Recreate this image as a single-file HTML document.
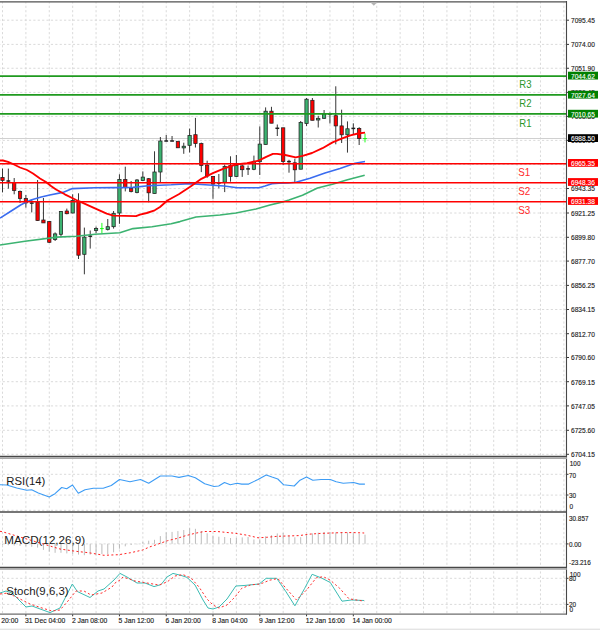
<!DOCTYPE html>
<html><head><meta charset="utf-8"><style>
html,body{margin:0;padding:0;background:#fff;width:600px;height:630px;overflow:hidden}
svg{display:block}
</style></head><body>
<svg width="600" height="630" viewBox="0 0 600 630">
<rect width="600" height="630" fill="#ffffff"/>
<line x1="2.50" y1="2.2" x2="2.50" y2="456.5" stroke="#d6d6d6" stroke-width="0.9" stroke-dasharray="2.19,2.195" stroke-dashoffset="0.85"/>
<line x1="2.50" y1="457.5" x2="2.50" y2="511.5" stroke="#d6d6d6" stroke-width="0.9" stroke-dasharray="2.19,2.195" stroke-dashoffset="0.11"/>
<line x1="2.50" y1="512.5" x2="2.50" y2="568.0" stroke="#d6d6d6" stroke-width="0.9" stroke-dasharray="2.19,2.195" stroke-dashoffset="2.49"/>
<line x1="2.50" y1="569.0" x2="2.50" y2="614.0" stroke="#d6d6d6" stroke-width="0.9" stroke-dasharray="2.19,2.195" stroke-dashoffset="1.99"/>
<line x1="25.89" y1="2.2" x2="25.89" y2="456.5" stroke="#d6d6d6" stroke-width="0.9" stroke-dasharray="2.19,2.195" stroke-dashoffset="0.85"/>
<line x1="25.89" y1="457.5" x2="25.89" y2="511.5" stroke="#d6d6d6" stroke-width="0.9" stroke-dasharray="2.19,2.195" stroke-dashoffset="0.11"/>
<line x1="25.89" y1="512.5" x2="25.89" y2="568.0" stroke="#d6d6d6" stroke-width="0.9" stroke-dasharray="2.19,2.195" stroke-dashoffset="2.49"/>
<line x1="25.89" y1="569.0" x2="25.89" y2="614.0" stroke="#d6d6d6" stroke-width="0.9" stroke-dasharray="2.19,2.195" stroke-dashoffset="1.99"/>
<line x1="49.28" y1="2.2" x2="49.28" y2="456.5" stroke="#d6d6d6" stroke-width="0.9" stroke-dasharray="2.19,2.195" stroke-dashoffset="0.85"/>
<line x1="49.28" y1="457.5" x2="49.28" y2="511.5" stroke="#d6d6d6" stroke-width="0.9" stroke-dasharray="2.19,2.195" stroke-dashoffset="0.11"/>
<line x1="49.28" y1="512.5" x2="49.28" y2="568.0" stroke="#d6d6d6" stroke-width="0.9" stroke-dasharray="2.19,2.195" stroke-dashoffset="2.49"/>
<line x1="49.28" y1="569.0" x2="49.28" y2="614.0" stroke="#d6d6d6" stroke-width="0.9" stroke-dasharray="2.19,2.195" stroke-dashoffset="1.99"/>
<line x1="72.67" y1="2.2" x2="72.67" y2="456.5" stroke="#d6d6d6" stroke-width="0.9" stroke-dasharray="2.19,2.195" stroke-dashoffset="0.85"/>
<line x1="72.67" y1="457.5" x2="72.67" y2="511.5" stroke="#d6d6d6" stroke-width="0.9" stroke-dasharray="2.19,2.195" stroke-dashoffset="0.11"/>
<line x1="72.67" y1="512.5" x2="72.67" y2="568.0" stroke="#d6d6d6" stroke-width="0.9" stroke-dasharray="2.19,2.195" stroke-dashoffset="2.49"/>
<line x1="72.67" y1="569.0" x2="72.67" y2="614.0" stroke="#d6d6d6" stroke-width="0.9" stroke-dasharray="2.19,2.195" stroke-dashoffset="1.99"/>
<line x1="96.06" y1="2.2" x2="96.06" y2="456.5" stroke="#d6d6d6" stroke-width="0.9" stroke-dasharray="2.19,2.195" stroke-dashoffset="0.85"/>
<line x1="96.06" y1="457.5" x2="96.06" y2="511.5" stroke="#d6d6d6" stroke-width="0.9" stroke-dasharray="2.19,2.195" stroke-dashoffset="0.11"/>
<line x1="96.06" y1="512.5" x2="96.06" y2="568.0" stroke="#d6d6d6" stroke-width="0.9" stroke-dasharray="2.19,2.195" stroke-dashoffset="2.49"/>
<line x1="96.06" y1="569.0" x2="96.06" y2="614.0" stroke="#d6d6d6" stroke-width="0.9" stroke-dasharray="2.19,2.195" stroke-dashoffset="1.99"/>
<line x1="119.45" y1="2.2" x2="119.45" y2="456.5" stroke="#d6d6d6" stroke-width="0.9" stroke-dasharray="2.19,2.195" stroke-dashoffset="0.85"/>
<line x1="119.45" y1="457.5" x2="119.45" y2="511.5" stroke="#d6d6d6" stroke-width="0.9" stroke-dasharray="2.19,2.195" stroke-dashoffset="0.11"/>
<line x1="119.45" y1="512.5" x2="119.45" y2="568.0" stroke="#d6d6d6" stroke-width="0.9" stroke-dasharray="2.19,2.195" stroke-dashoffset="2.49"/>
<line x1="119.45" y1="569.0" x2="119.45" y2="614.0" stroke="#d6d6d6" stroke-width="0.9" stroke-dasharray="2.19,2.195" stroke-dashoffset="1.99"/>
<line x1="142.84" y1="2.2" x2="142.84" y2="456.5" stroke="#d6d6d6" stroke-width="0.9" stroke-dasharray="2.19,2.195" stroke-dashoffset="0.85"/>
<line x1="142.84" y1="457.5" x2="142.84" y2="511.5" stroke="#d6d6d6" stroke-width="0.9" stroke-dasharray="2.19,2.195" stroke-dashoffset="0.11"/>
<line x1="142.84" y1="512.5" x2="142.84" y2="568.0" stroke="#d6d6d6" stroke-width="0.9" stroke-dasharray="2.19,2.195" stroke-dashoffset="2.49"/>
<line x1="142.84" y1="569.0" x2="142.84" y2="614.0" stroke="#d6d6d6" stroke-width="0.9" stroke-dasharray="2.19,2.195" stroke-dashoffset="1.99"/>
<line x1="166.23" y1="2.2" x2="166.23" y2="456.5" stroke="#d6d6d6" stroke-width="0.9" stroke-dasharray="2.19,2.195" stroke-dashoffset="0.85"/>
<line x1="166.23" y1="457.5" x2="166.23" y2="511.5" stroke="#d6d6d6" stroke-width="0.9" stroke-dasharray="2.19,2.195" stroke-dashoffset="0.11"/>
<line x1="166.23" y1="512.5" x2="166.23" y2="568.0" stroke="#d6d6d6" stroke-width="0.9" stroke-dasharray="2.19,2.195" stroke-dashoffset="2.49"/>
<line x1="166.23" y1="569.0" x2="166.23" y2="614.0" stroke="#d6d6d6" stroke-width="0.9" stroke-dasharray="2.19,2.195" stroke-dashoffset="1.99"/>
<line x1="189.62" y1="2.2" x2="189.62" y2="456.5" stroke="#d6d6d6" stroke-width="0.9" stroke-dasharray="2.19,2.195" stroke-dashoffset="0.85"/>
<line x1="189.62" y1="457.5" x2="189.62" y2="511.5" stroke="#d6d6d6" stroke-width="0.9" stroke-dasharray="2.19,2.195" stroke-dashoffset="0.11"/>
<line x1="189.62" y1="512.5" x2="189.62" y2="568.0" stroke="#d6d6d6" stroke-width="0.9" stroke-dasharray="2.19,2.195" stroke-dashoffset="2.49"/>
<line x1="189.62" y1="569.0" x2="189.62" y2="614.0" stroke="#d6d6d6" stroke-width="0.9" stroke-dasharray="2.19,2.195" stroke-dashoffset="1.99"/>
<line x1="213.01" y1="2.2" x2="213.01" y2="456.5" stroke="#d6d6d6" stroke-width="0.9" stroke-dasharray="2.19,2.195" stroke-dashoffset="0.85"/>
<line x1="213.01" y1="457.5" x2="213.01" y2="511.5" stroke="#d6d6d6" stroke-width="0.9" stroke-dasharray="2.19,2.195" stroke-dashoffset="0.11"/>
<line x1="213.01" y1="512.5" x2="213.01" y2="568.0" stroke="#d6d6d6" stroke-width="0.9" stroke-dasharray="2.19,2.195" stroke-dashoffset="2.49"/>
<line x1="213.01" y1="569.0" x2="213.01" y2="614.0" stroke="#d6d6d6" stroke-width="0.9" stroke-dasharray="2.19,2.195" stroke-dashoffset="1.99"/>
<line x1="236.40" y1="2.2" x2="236.40" y2="456.5" stroke="#d6d6d6" stroke-width="0.9" stroke-dasharray="2.19,2.195" stroke-dashoffset="0.85"/>
<line x1="236.40" y1="457.5" x2="236.40" y2="511.5" stroke="#d6d6d6" stroke-width="0.9" stroke-dasharray="2.19,2.195" stroke-dashoffset="0.11"/>
<line x1="236.40" y1="512.5" x2="236.40" y2="568.0" stroke="#d6d6d6" stroke-width="0.9" stroke-dasharray="2.19,2.195" stroke-dashoffset="2.49"/>
<line x1="236.40" y1="569.0" x2="236.40" y2="614.0" stroke="#d6d6d6" stroke-width="0.9" stroke-dasharray="2.19,2.195" stroke-dashoffset="1.99"/>
<line x1="259.79" y1="2.2" x2="259.79" y2="456.5" stroke="#d6d6d6" stroke-width="0.9" stroke-dasharray="2.19,2.195" stroke-dashoffset="0.85"/>
<line x1="259.79" y1="457.5" x2="259.79" y2="511.5" stroke="#d6d6d6" stroke-width="0.9" stroke-dasharray="2.19,2.195" stroke-dashoffset="0.11"/>
<line x1="259.79" y1="512.5" x2="259.79" y2="568.0" stroke="#d6d6d6" stroke-width="0.9" stroke-dasharray="2.19,2.195" stroke-dashoffset="2.49"/>
<line x1="259.79" y1="569.0" x2="259.79" y2="614.0" stroke="#d6d6d6" stroke-width="0.9" stroke-dasharray="2.19,2.195" stroke-dashoffset="1.99"/>
<line x1="283.18" y1="2.2" x2="283.18" y2="456.5" stroke="#d6d6d6" stroke-width="0.9" stroke-dasharray="2.19,2.195" stroke-dashoffset="0.85"/>
<line x1="283.18" y1="457.5" x2="283.18" y2="511.5" stroke="#d6d6d6" stroke-width="0.9" stroke-dasharray="2.19,2.195" stroke-dashoffset="0.11"/>
<line x1="283.18" y1="512.5" x2="283.18" y2="568.0" stroke="#d6d6d6" stroke-width="0.9" stroke-dasharray="2.19,2.195" stroke-dashoffset="2.49"/>
<line x1="283.18" y1="569.0" x2="283.18" y2="614.0" stroke="#d6d6d6" stroke-width="0.9" stroke-dasharray="2.19,2.195" stroke-dashoffset="1.99"/>
<line x1="306.57" y1="2.2" x2="306.57" y2="456.5" stroke="#d6d6d6" stroke-width="0.9" stroke-dasharray="2.19,2.195" stroke-dashoffset="0.85"/>
<line x1="306.57" y1="457.5" x2="306.57" y2="511.5" stroke="#d6d6d6" stroke-width="0.9" stroke-dasharray="2.19,2.195" stroke-dashoffset="0.11"/>
<line x1="306.57" y1="512.5" x2="306.57" y2="568.0" stroke="#d6d6d6" stroke-width="0.9" stroke-dasharray="2.19,2.195" stroke-dashoffset="2.49"/>
<line x1="306.57" y1="569.0" x2="306.57" y2="614.0" stroke="#d6d6d6" stroke-width="0.9" stroke-dasharray="2.19,2.195" stroke-dashoffset="1.99"/>
<line x1="329.96" y1="2.2" x2="329.96" y2="456.5" stroke="#d6d6d6" stroke-width="0.9" stroke-dasharray="2.19,2.195" stroke-dashoffset="0.85"/>
<line x1="329.96" y1="457.5" x2="329.96" y2="511.5" stroke="#d6d6d6" stroke-width="0.9" stroke-dasharray="2.19,2.195" stroke-dashoffset="0.11"/>
<line x1="329.96" y1="512.5" x2="329.96" y2="568.0" stroke="#d6d6d6" stroke-width="0.9" stroke-dasharray="2.19,2.195" stroke-dashoffset="2.49"/>
<line x1="329.96" y1="569.0" x2="329.96" y2="614.0" stroke="#d6d6d6" stroke-width="0.9" stroke-dasharray="2.19,2.195" stroke-dashoffset="1.99"/>
<line x1="353.35" y1="2.2" x2="353.35" y2="456.5" stroke="#d6d6d6" stroke-width="0.9" stroke-dasharray="2.19,2.195" stroke-dashoffset="0.85"/>
<line x1="353.35" y1="457.5" x2="353.35" y2="511.5" stroke="#d6d6d6" stroke-width="0.9" stroke-dasharray="2.19,2.195" stroke-dashoffset="0.11"/>
<line x1="353.35" y1="512.5" x2="353.35" y2="568.0" stroke="#d6d6d6" stroke-width="0.9" stroke-dasharray="2.19,2.195" stroke-dashoffset="2.49"/>
<line x1="353.35" y1="569.0" x2="353.35" y2="614.0" stroke="#d6d6d6" stroke-width="0.9" stroke-dasharray="2.19,2.195" stroke-dashoffset="1.99"/>
<line x1="376.74" y1="2.2" x2="376.74" y2="456.5" stroke="#d6d6d6" stroke-width="0.9" stroke-dasharray="2.19,2.195" stroke-dashoffset="0.85"/>
<line x1="376.74" y1="457.5" x2="376.74" y2="511.5" stroke="#d6d6d6" stroke-width="0.9" stroke-dasharray="2.19,2.195" stroke-dashoffset="0.11"/>
<line x1="376.74" y1="512.5" x2="376.74" y2="568.0" stroke="#d6d6d6" stroke-width="0.9" stroke-dasharray="2.19,2.195" stroke-dashoffset="2.49"/>
<line x1="376.74" y1="569.0" x2="376.74" y2="614.0" stroke="#d6d6d6" stroke-width="0.9" stroke-dasharray="2.19,2.195" stroke-dashoffset="1.99"/>
<line x1="400.13" y1="2.2" x2="400.13" y2="456.5" stroke="#d6d6d6" stroke-width="0.9" stroke-dasharray="2.19,2.195" stroke-dashoffset="0.85"/>
<line x1="400.13" y1="457.5" x2="400.13" y2="511.5" stroke="#d6d6d6" stroke-width="0.9" stroke-dasharray="2.19,2.195" stroke-dashoffset="0.11"/>
<line x1="400.13" y1="512.5" x2="400.13" y2="568.0" stroke="#d6d6d6" stroke-width="0.9" stroke-dasharray="2.19,2.195" stroke-dashoffset="2.49"/>
<line x1="400.13" y1="569.0" x2="400.13" y2="614.0" stroke="#d6d6d6" stroke-width="0.9" stroke-dasharray="2.19,2.195" stroke-dashoffset="1.99"/>
<line x1="423.52" y1="2.2" x2="423.52" y2="456.5" stroke="#d6d6d6" stroke-width="0.9" stroke-dasharray="2.19,2.195" stroke-dashoffset="0.85"/>
<line x1="423.52" y1="457.5" x2="423.52" y2="511.5" stroke="#d6d6d6" stroke-width="0.9" stroke-dasharray="2.19,2.195" stroke-dashoffset="0.11"/>
<line x1="423.52" y1="512.5" x2="423.52" y2="568.0" stroke="#d6d6d6" stroke-width="0.9" stroke-dasharray="2.19,2.195" stroke-dashoffset="2.49"/>
<line x1="423.52" y1="569.0" x2="423.52" y2="614.0" stroke="#d6d6d6" stroke-width="0.9" stroke-dasharray="2.19,2.195" stroke-dashoffset="1.99"/>
<line x1="446.91" y1="2.2" x2="446.91" y2="456.5" stroke="#d6d6d6" stroke-width="0.9" stroke-dasharray="2.19,2.195" stroke-dashoffset="0.85"/>
<line x1="446.91" y1="457.5" x2="446.91" y2="511.5" stroke="#d6d6d6" stroke-width="0.9" stroke-dasharray="2.19,2.195" stroke-dashoffset="0.11"/>
<line x1="446.91" y1="512.5" x2="446.91" y2="568.0" stroke="#d6d6d6" stroke-width="0.9" stroke-dasharray="2.19,2.195" stroke-dashoffset="2.49"/>
<line x1="446.91" y1="569.0" x2="446.91" y2="614.0" stroke="#d6d6d6" stroke-width="0.9" stroke-dasharray="2.19,2.195" stroke-dashoffset="1.99"/>
<line x1="470.30" y1="2.2" x2="470.30" y2="456.5" stroke="#d6d6d6" stroke-width="0.9" stroke-dasharray="2.19,2.195" stroke-dashoffset="0.85"/>
<line x1="470.30" y1="457.5" x2="470.30" y2="511.5" stroke="#d6d6d6" stroke-width="0.9" stroke-dasharray="2.19,2.195" stroke-dashoffset="0.11"/>
<line x1="470.30" y1="512.5" x2="470.30" y2="568.0" stroke="#d6d6d6" stroke-width="0.9" stroke-dasharray="2.19,2.195" stroke-dashoffset="2.49"/>
<line x1="470.30" y1="569.0" x2="470.30" y2="614.0" stroke="#d6d6d6" stroke-width="0.9" stroke-dasharray="2.19,2.195" stroke-dashoffset="1.99"/>
<line x1="493.69" y1="2.2" x2="493.69" y2="456.5" stroke="#d6d6d6" stroke-width="0.9" stroke-dasharray="2.19,2.195" stroke-dashoffset="0.85"/>
<line x1="493.69" y1="457.5" x2="493.69" y2="511.5" stroke="#d6d6d6" stroke-width="0.9" stroke-dasharray="2.19,2.195" stroke-dashoffset="0.11"/>
<line x1="493.69" y1="512.5" x2="493.69" y2="568.0" stroke="#d6d6d6" stroke-width="0.9" stroke-dasharray="2.19,2.195" stroke-dashoffset="2.49"/>
<line x1="493.69" y1="569.0" x2="493.69" y2="614.0" stroke="#d6d6d6" stroke-width="0.9" stroke-dasharray="2.19,2.195" stroke-dashoffset="1.99"/>
<line x1="517.08" y1="2.2" x2="517.08" y2="456.5" stroke="#d6d6d6" stroke-width="0.9" stroke-dasharray="2.19,2.195" stroke-dashoffset="0.85"/>
<line x1="517.08" y1="457.5" x2="517.08" y2="511.5" stroke="#d6d6d6" stroke-width="0.9" stroke-dasharray="2.19,2.195" stroke-dashoffset="0.11"/>
<line x1="517.08" y1="512.5" x2="517.08" y2="568.0" stroke="#d6d6d6" stroke-width="0.9" stroke-dasharray="2.19,2.195" stroke-dashoffset="2.49"/>
<line x1="517.08" y1="569.0" x2="517.08" y2="614.0" stroke="#d6d6d6" stroke-width="0.9" stroke-dasharray="2.19,2.195" stroke-dashoffset="1.99"/>
<line x1="540.47" y1="2.2" x2="540.47" y2="456.5" stroke="#d6d6d6" stroke-width="0.9" stroke-dasharray="2.19,2.195" stroke-dashoffset="0.85"/>
<line x1="540.47" y1="457.5" x2="540.47" y2="511.5" stroke="#d6d6d6" stroke-width="0.9" stroke-dasharray="2.19,2.195" stroke-dashoffset="0.11"/>
<line x1="540.47" y1="512.5" x2="540.47" y2="568.0" stroke="#d6d6d6" stroke-width="0.9" stroke-dasharray="2.19,2.195" stroke-dashoffset="2.49"/>
<line x1="540.47" y1="569.0" x2="540.47" y2="614.0" stroke="#d6d6d6" stroke-width="0.9" stroke-dasharray="2.19,2.195" stroke-dashoffset="1.99"/>
<line x1="563.86" y1="2.2" x2="563.86" y2="456.5" stroke="#d6d6d6" stroke-width="0.9" stroke-dasharray="2.19,2.195" stroke-dashoffset="0.85"/>
<line x1="563.86" y1="457.5" x2="563.86" y2="511.5" stroke="#d6d6d6" stroke-width="0.9" stroke-dasharray="2.19,2.195" stroke-dashoffset="0.11"/>
<line x1="563.86" y1="512.5" x2="563.86" y2="568.0" stroke="#d6d6d6" stroke-width="0.9" stroke-dasharray="2.19,2.195" stroke-dashoffset="2.49"/>
<line x1="563.86" y1="569.0" x2="563.86" y2="614.0" stroke="#d6d6d6" stroke-width="0.9" stroke-dasharray="2.19,2.195" stroke-dashoffset="1.99"/>
<line x1="0" y1="20.20" x2="566.0" y2="20.20" stroke="#d6d6d6" stroke-width="0.90" stroke-dasharray="2.19,2.195" stroke-dashoffset="1.755"/>
<line x1="0" y1="44.40" x2="566.0" y2="44.40" stroke="#d6d6d6" stroke-width="0.90" stroke-dasharray="2.19,2.195" stroke-dashoffset="1.755"/>
<line x1="0" y1="68.25" x2="566.0" y2="68.25" stroke="#d6d6d6" stroke-width="0.90" stroke-dasharray="2.19,2.195" stroke-dashoffset="1.755"/>
<line x1="0" y1="92.40" x2="566.0" y2="92.40" stroke="#d6d6d6" stroke-width="0.90" stroke-dasharray="2.19,2.195" stroke-dashoffset="1.755"/>
<line x1="0" y1="116.40" x2="566.0" y2="116.40" stroke="#d6d6d6" stroke-width="0.90" stroke-dasharray="2.19,2.195" stroke-dashoffset="1.755"/>
<line x1="0" y1="140.40" x2="566.0" y2="140.40" stroke="#d6d6d6" stroke-width="0.90" stroke-dasharray="2.19,2.195" stroke-dashoffset="1.755"/>
<line x1="0" y1="164.50" x2="566.0" y2="164.50" stroke="#d6d6d6" stroke-width="0.90" stroke-dasharray="2.19,2.195" stroke-dashoffset="1.755"/>
<line x1="0" y1="188.50" x2="566.0" y2="188.50" stroke="#d6d6d6" stroke-width="0.90" stroke-dasharray="2.19,2.195" stroke-dashoffset="1.755"/>
<line x1="0" y1="213.00" x2="566.0" y2="213.00" stroke="#d6d6d6" stroke-width="0.90" stroke-dasharray="2.19,2.195" stroke-dashoffset="1.755"/>
<line x1="0" y1="237.30" x2="566.0" y2="237.30" stroke="#d6d6d6" stroke-width="0.90" stroke-dasharray="2.19,2.195" stroke-dashoffset="1.755"/>
<line x1="0" y1="261.10" x2="566.0" y2="261.10" stroke="#d6d6d6" stroke-width="0.90" stroke-dasharray="2.19,2.195" stroke-dashoffset="1.755"/>
<line x1="0" y1="285.40" x2="566.0" y2="285.40" stroke="#d6d6d6" stroke-width="0.90" stroke-dasharray="2.19,2.195" stroke-dashoffset="1.755"/>
<line x1="0" y1="309.50" x2="566.0" y2="309.50" stroke="#d6d6d6" stroke-width="0.90" stroke-dasharray="2.19,2.195" stroke-dashoffset="1.755"/>
<line x1="0" y1="333.70" x2="566.0" y2="333.70" stroke="#d6d6d6" stroke-width="0.90" stroke-dasharray="2.19,2.195" stroke-dashoffset="1.755"/>
<line x1="0" y1="357.50" x2="566.0" y2="357.50" stroke="#d6d6d6" stroke-width="0.90" stroke-dasharray="2.19,2.195" stroke-dashoffset="1.755"/>
<line x1="0" y1="381.70" x2="566.0" y2="381.70" stroke="#d6d6d6" stroke-width="0.90" stroke-dasharray="2.19,2.195" stroke-dashoffset="1.755"/>
<line x1="0" y1="405.90" x2="566.0" y2="405.90" stroke="#d6d6d6" stroke-width="0.90" stroke-dasharray="2.19,2.195" stroke-dashoffset="1.755"/>
<line x1="0" y1="430.30" x2="566.0" y2="430.30" stroke="#d6d6d6" stroke-width="0.90" stroke-dasharray="2.19,2.195" stroke-dashoffset="1.755"/>
<line x1="0" y1="454.30" x2="566.0" y2="454.30" stroke="#d6d6d6" stroke-width="0.90" stroke-dasharray="2.19,2.195" stroke-dashoffset="1.755"/>
<line x1="0" y1="474.30" x2="566.0" y2="474.30" stroke="#d6d6d6" stroke-width="0.90" stroke-dasharray="2.19,2.195" stroke-dashoffset="1.755"/>
<line x1="0" y1="495.10" x2="566.0" y2="495.10" stroke="#d6d6d6" stroke-width="0.90" stroke-dasharray="2.19,2.195" stroke-dashoffset="1.755"/>
<line x1="0" y1="543.90" x2="566.0" y2="543.90" stroke="#d6d6d6" stroke-width="0.90" stroke-dasharray="2.19,2.195" stroke-dashoffset="1.755"/>
<line x1="0" y1="578.30" x2="566.0" y2="578.30" stroke="#d6d6d6" stroke-width="0.90" stroke-dasharray="2.19,2.195" stroke-dashoffset="1.755"/>
<line x1="0" y1="604.40" x2="566.0" y2="604.40" stroke="#d6d6d6" stroke-width="0.90" stroke-dasharray="2.19,2.195" stroke-dashoffset="1.755"/>
<line x1="0" y1="138.5" x2="566" y2="138.5" stroke="#d0d0d0" stroke-width="1.1"/>
<line x1="2.50" y1="168.60" x2="2.50" y2="192.40" stroke="#202020" stroke-width="0.9"/>
<rect x="0.85" y="177.50" width="3.3" height="2.90" fill="#ff0000" stroke="#202020" stroke-width="0.75"/>
<line x1="8.35" y1="168.60" x2="8.35" y2="188.60" stroke="#202020" stroke-width="0.9"/>
<line x1="6.45" y1="181.00" x2="10.25" y2="181.00" stroke="#202020" stroke-width="1.5"/>
<line x1="14.19" y1="178.00" x2="14.19" y2="194.30" stroke="#202020" stroke-width="0.9"/>
<rect x="12.54" y="182.50" width="3.3" height="8.00" fill="#ff0000" stroke="#202020" stroke-width="0.75"/>
<line x1="20.04" y1="190.50" x2="20.04" y2="203.00" stroke="#202020" stroke-width="0.9"/>
<rect x="18.39" y="191.40" width="3.3" height="7.10" fill="#ff0000" stroke="#202020" stroke-width="0.75"/>
<line x1="25.89" y1="195.00" x2="25.89" y2="207.60" stroke="#202020" stroke-width="0.9"/>
<rect x="24.24" y="198.50" width="3.3" height="4.40" fill="#ff0000" stroke="#202020" stroke-width="0.75"/>
<line x1="31.74" y1="200.00" x2="31.74" y2="212.40" stroke="#202020" stroke-width="0.9"/>
<line x1="29.84" y1="203.10" x2="33.64" y2="203.10" stroke="#202020" stroke-width="1.5"/>
<line x1="37.58" y1="180.00" x2="37.58" y2="221.00" stroke="#202020" stroke-width="0.9"/>
<rect x="35.93" y="202.30" width="3.3" height="18.30" fill="#ff0000" stroke="#202020" stroke-width="0.75"/>
<line x1="43.43" y1="198.00" x2="43.43" y2="222.90" stroke="#202020" stroke-width="0.9"/>
<rect x="41.78" y="220.00" width="3.3" height="2.90" fill="#ff0000" stroke="#202020" stroke-width="0.75"/>
<line x1="49.28" y1="221.00" x2="49.28" y2="242.90" stroke="#202020" stroke-width="0.9"/>
<rect x="47.63" y="221.50" width="3.3" height="20.80" fill="#ff0000" stroke="#202020" stroke-width="0.75"/>
<line x1="55.12" y1="232.40" x2="55.12" y2="241.00" stroke="#202020" stroke-width="0.9"/>
<rect x="53.47" y="233.90" width="3.3" height="5.70" fill="#3cb371" stroke="#202020" stroke-width="0.75"/>
<line x1="60.97" y1="211.00" x2="60.97" y2="237.10" stroke="#202020" stroke-width="0.9"/>
<rect x="59.32" y="211.40" width="3.3" height="22.90" fill="#3cb371" stroke="#202020" stroke-width="0.75"/>
<line x1="66.82" y1="208.60" x2="66.82" y2="214.30" stroke="#202020" stroke-width="0.9"/>
<rect x="65.17" y="211.00" width="3.3" height="2.70" fill="#ff0000" stroke="#202020" stroke-width="0.75"/>
<line x1="72.66" y1="194.30" x2="72.66" y2="213.30" stroke="#202020" stroke-width="0.9"/>
<rect x="71.01" y="200.60" width="3.3" height="12.40" fill="#3cb371" stroke="#202020" stroke-width="0.75"/>
<line x1="78.51" y1="193.30" x2="78.51" y2="259.00" stroke="#202020" stroke-width="0.9"/>
<rect x="76.86" y="201.50" width="3.3" height="53.70" fill="#ff0000" stroke="#202020" stroke-width="0.75"/>
<line x1="84.36" y1="227.60" x2="84.36" y2="274.30" stroke="#202020" stroke-width="0.9"/>
<rect x="82.71" y="237.10" width="3.3" height="17.20" fill="#3cb371" stroke="#202020" stroke-width="0.75"/>
<line x1="90.21" y1="230.50" x2="90.21" y2="248.60" stroke="#202020" stroke-width="0.9"/>
<line x1="88.31" y1="236.20" x2="92.11" y2="236.20" stroke="#202020" stroke-width="1.5"/>
<line x1="96.05" y1="226.70" x2="96.05" y2="233.30" stroke="#202020" stroke-width="0.9"/>
<rect x="94.40" y="228.60" width="3.3" height="1.90" fill="#3cb371" stroke="#202020" stroke-width="0.75"/>
<line x1="101.90" y1="222.90" x2="101.90" y2="233.30" stroke="#00ff00" stroke-width="0.9"/>
<line x1="100.00" y1="228.60" x2="103.80" y2="228.60" stroke="#00ff00" stroke-width="0.9"/>
<line x1="107.75" y1="219.00" x2="107.75" y2="230.50" stroke="#202020" stroke-width="0.9"/>
<rect x="106.10" y="226.70" width="3.3" height="2.80" fill="#3cb371" stroke="#202020" stroke-width="0.75"/>
<line x1="113.59" y1="211.00" x2="113.59" y2="228.60" stroke="#202020" stroke-width="0.9"/>
<rect x="111.94" y="213.30" width="3.3" height="13.40" fill="#3cb371" stroke="#202020" stroke-width="0.75"/>
<line x1="119.44" y1="174.30" x2="119.44" y2="223.80" stroke="#202020" stroke-width="0.9"/>
<rect x="117.79" y="179.40" width="3.3" height="33.60" fill="#3cb371" stroke="#202020" stroke-width="0.75"/>
<line x1="125.29" y1="166.70" x2="125.29" y2="191.40" stroke="#202020" stroke-width="0.9"/>
<rect x="123.64" y="179.40" width="3.3" height="8.20" fill="#ff0000" stroke="#202020" stroke-width="0.75"/>
<line x1="131.13" y1="181.00" x2="131.13" y2="192.40" stroke="#202020" stroke-width="0.9"/>
<rect x="129.48" y="188.60" width="3.3" height="2.80" fill="#ff0000" stroke="#202020" stroke-width="0.75"/>
<line x1="136.98" y1="179.00" x2="136.98" y2="193.30" stroke="#202020" stroke-width="0.9"/>
<rect x="135.33" y="180.00" width="3.3" height="12.40" fill="#3cb371" stroke="#202020" stroke-width="0.75"/>
<line x1="142.83" y1="171.40" x2="142.83" y2="181.00" stroke="#202020" stroke-width="0.9"/>
<rect x="141.18" y="177.10" width="3.3" height="3.50" fill="#3cb371" stroke="#202020" stroke-width="0.75"/>
<line x1="148.68" y1="178.00" x2="148.68" y2="202.30" stroke="#202020" stroke-width="0.9"/>
<rect x="147.03" y="178.70" width="3.3" height="14.10" fill="#ff0000" stroke="#202020" stroke-width="0.75"/>
<line x1="154.52" y1="151.30" x2="154.52" y2="193.60" stroke="#202020" stroke-width="0.9"/>
<rect x="152.87" y="172.00" width="3.3" height="21.60" fill="#3cb371" stroke="#202020" stroke-width="0.75"/>
<line x1="160.37" y1="137.00" x2="160.37" y2="182.00" stroke="#202020" stroke-width="0.9"/>
<rect x="158.72" y="141.00" width="3.3" height="31.00" fill="#3cb371" stroke="#202020" stroke-width="0.75"/>
<line x1="166.22" y1="135.00" x2="166.22" y2="141.30" stroke="#202020" stroke-width="0.9"/>
<line x1="164.32" y1="141.00" x2="168.12" y2="141.00" stroke="#202020" stroke-width="1.5"/>
<line x1="172.06" y1="136.00" x2="172.06" y2="141.30" stroke="#202020" stroke-width="0.9"/>
<line x1="170.16" y1="141.00" x2="173.96" y2="141.00" stroke="#202020" stroke-width="1.5"/>
<line x1="177.91" y1="141.30" x2="177.91" y2="148.00" stroke="#202020" stroke-width="0.9"/>
<rect x="176.26" y="141.30" width="3.3" height="6.50" fill="#ff0000" stroke="#202020" stroke-width="0.75"/>
<line x1="183.76" y1="142.70" x2="183.76" y2="153.80" stroke="#202020" stroke-width="0.9"/>
<rect x="182.11" y="146.20" width="3.3" height="1.70" fill="#3cb371" stroke="#202020" stroke-width="0.75"/>
<line x1="189.60" y1="128.60" x2="189.60" y2="152.50" stroke="#202020" stroke-width="0.9"/>
<rect x="187.95" y="135.60" width="3.3" height="9.70" fill="#3cb371" stroke="#202020" stroke-width="0.75"/>
<line x1="195.45" y1="117.90" x2="195.45" y2="147.50" stroke="#202020" stroke-width="0.9"/>
<rect x="193.80" y="134.70" width="3.3" height="8.90" fill="#ff0000" stroke="#202020" stroke-width="0.75"/>
<line x1="201.30" y1="142.60" x2="201.30" y2="172.10" stroke="#202020" stroke-width="0.9"/>
<rect x="199.65" y="143.60" width="3.3" height="21.90" fill="#ff0000" stroke="#202020" stroke-width="0.75"/>
<line x1="207.15" y1="160.70" x2="207.15" y2="177.90" stroke="#202020" stroke-width="0.9"/>
<rect x="205.50" y="165.10" width="3.3" height="10.90" fill="#ff0000" stroke="#202020" stroke-width="0.75"/>
<line x1="212.99" y1="176.00" x2="212.99" y2="198.80" stroke="#202020" stroke-width="0.9"/>
<rect x="211.34" y="176.50" width="3.3" height="7.60" fill="#ff0000" stroke="#202020" stroke-width="0.75"/>
<line x1="218.84" y1="174.00" x2="218.84" y2="188.30" stroke="#202020" stroke-width="0.9"/>
<line x1="216.94" y1="183.00" x2="220.74" y2="183.00" stroke="#202020" stroke-width="1.5"/>
<line x1="224.69" y1="164.50" x2="224.69" y2="192.10" stroke="#202020" stroke-width="0.9"/>
<rect x="223.04" y="166.40" width="3.3" height="15.80" fill="#3cb371" stroke="#202020" stroke-width="0.75"/>
<line x1="230.53" y1="156.30" x2="230.53" y2="181.70" stroke="#202020" stroke-width="0.9"/>
<rect x="228.88" y="165.50" width="3.3" height="11.00" fill="#ff0000" stroke="#202020" stroke-width="0.75"/>
<line x1="236.38" y1="155.00" x2="236.38" y2="176.90" stroke="#202020" stroke-width="0.9"/>
<rect x="234.73" y="165.50" width="3.3" height="11.00" fill="#3cb371" stroke="#202020" stroke-width="0.75"/>
<line x1="242.23" y1="164.50" x2="242.23" y2="176.90" stroke="#202020" stroke-width="0.9"/>
<rect x="240.58" y="165.90" width="3.3" height="3.80" fill="#ff0000" stroke="#202020" stroke-width="0.75"/>
<line x1="248.07" y1="165.50" x2="248.07" y2="175.00" stroke="#202020" stroke-width="0.9"/>
<line x1="246.17" y1="168.90" x2="249.97" y2="168.90" stroke="#202020" stroke-width="1.5"/>
<line x1="253.92" y1="155.60" x2="253.92" y2="170.20" stroke="#202020" stroke-width="0.9"/>
<rect x="252.27" y="161.30" width="3.3" height="8.00" fill="#3cb371" stroke="#202020" stroke-width="0.75"/>
<line x1="259.77" y1="126.40" x2="259.77" y2="175.00" stroke="#202020" stroke-width="0.9"/>
<rect x="258.12" y="144.10" width="3.3" height="17.60" fill="#3cb371" stroke="#202020" stroke-width="0.75"/>
<line x1="265.62" y1="107.40" x2="265.62" y2="144.50" stroke="#202020" stroke-width="0.9"/>
<rect x="263.97" y="111.20" width="3.3" height="33.30" fill="#3cb371" stroke="#202020" stroke-width="0.75"/>
<line x1="271.46" y1="106.80" x2="271.46" y2="123.20" stroke="#202020" stroke-width="0.9"/>
<rect x="269.81" y="111.20" width="3.3" height="12.00" fill="#ff0000" stroke="#202020" stroke-width="0.75"/>
<line x1="277.31" y1="124.50" x2="277.31" y2="136.00" stroke="#202020" stroke-width="0.9"/>
<line x1="275.41" y1="128.30" x2="279.21" y2="128.30" stroke="#202020" stroke-width="1.5"/>
<line x1="283.16" y1="127.80" x2="283.16" y2="165.00" stroke="#202020" stroke-width="0.9"/>
<rect x="281.51" y="127.80" width="3.3" height="33.80" fill="#ff0000" stroke="#202020" stroke-width="0.75"/>
<line x1="289.00" y1="159.80" x2="289.00" y2="172.70" stroke="#202020" stroke-width="0.9"/>
<line x1="287.10" y1="161.60" x2="290.90" y2="161.60" stroke="#202020" stroke-width="1.5"/>
<line x1="294.85" y1="158.70" x2="294.85" y2="182.00" stroke="#202020" stroke-width="0.9"/>
<rect x="293.20" y="162.80" width="3.3" height="7.00" fill="#ff0000" stroke="#202020" stroke-width="0.75"/>
<line x1="300.70" y1="121.00" x2="300.70" y2="169.20" stroke="#202020" stroke-width="0.9"/>
<rect x="299.05" y="122.50" width="3.3" height="46.70" fill="#3cb371" stroke="#202020" stroke-width="0.75"/>
<line x1="306.54" y1="98.00" x2="306.54" y2="126.10" stroke="#202020" stroke-width="0.9"/>
<rect x="304.89" y="99.20" width="3.3" height="24.40" fill="#3cb371" stroke="#202020" stroke-width="0.75"/>
<line x1="312.39" y1="98.00" x2="312.39" y2="120.30" stroke="#202020" stroke-width="0.9"/>
<rect x="310.74" y="100.30" width="3.3" height="20.00" fill="#ff0000" stroke="#202020" stroke-width="0.75"/>
<line x1="318.24" y1="115.80" x2="318.24" y2="127.50" stroke="#202020" stroke-width="0.9"/>
<rect x="316.59" y="118.30" width="3.3" height="1.70" fill="#3cb371" stroke="#202020" stroke-width="0.75"/>
<line x1="324.09" y1="110.00" x2="324.09" y2="119.00" stroke="#202020" stroke-width="0.9"/>
<rect x="322.44" y="114.00" width="3.3" height="4.30" fill="#3cb371" stroke="#202020" stroke-width="0.75"/>
<line x1="329.93" y1="112.50" x2="329.93" y2="123.50" stroke="#202020" stroke-width="0.9"/>
<line x1="328.03" y1="114.00" x2="331.83" y2="114.00" stroke="#202020" stroke-width="1.5"/>
<line x1="335.78" y1="86.30" x2="335.78" y2="144.30" stroke="#202020" stroke-width="0.9"/>
<rect x="334.13" y="115.70" width="3.3" height="10.20" fill="#ff0000" stroke="#202020" stroke-width="0.75"/>
<line x1="341.63" y1="109.70" x2="341.63" y2="143.00" stroke="#202020" stroke-width="0.9"/>
<rect x="339.98" y="125.90" width="3.3" height="8.90" fill="#ff0000" stroke="#202020" stroke-width="0.75"/>
<line x1="347.47" y1="121.40" x2="347.47" y2="152.60" stroke="#202020" stroke-width="0.9"/>
<rect x="345.82" y="128.80" width="3.3" height="6.00" fill="#3cb371" stroke="#202020" stroke-width="0.75"/>
<line x1="353.32" y1="123.30" x2="353.32" y2="134.80" stroke="#202020" stroke-width="0.9"/>
<line x1="351.42" y1="128.40" x2="355.22" y2="128.40" stroke="#202020" stroke-width="1.5"/>
<line x1="359.17" y1="127.20" x2="359.17" y2="145.00" stroke="#202020" stroke-width="0.9"/>
<rect x="357.52" y="128.40" width="3.3" height="10.20" fill="#ff0000" stroke="#202020" stroke-width="0.75"/>
<line x1="365.01" y1="133.50" x2="365.01" y2="142.40" stroke="#00ff00" stroke-width="0.9"/>
<line x1="363.11" y1="138.60" x2="366.91" y2="138.60" stroke="#00ff00" stroke-width="0.9"/>
<polyline points="0.00,245.00 25.00,241.30 57.00,237.10 76.00,236.20 95.00,234.30 119.80,232.80 133.00,228.60 152.00,226.70 171.20,223.80 180.00,221.60 196.00,217.00 220.00,215.00 236.00,213.00 256.00,209.00 270.00,205.00 284.00,201.60 289.00,200.00 302.50,195.20 317.50,188.00 332.50,184.20 347.50,179.70 364.70,175.20" fill="none" stroke="#3cb371" stroke-width="1.6" stroke-linejoin="round"/>
<polyline points="0.00,218.10 10.00,211.80 20.60,205.00 25.80,202.20 31.00,199.90 41.20,197.00 49.80,195.00 62.90,192.40 72.40,188.60 95.00,187.80 114.00,187.60 133.00,187.40 148.30,185.70 171.20,184.80 190.00,183.60 201.40,184.50 224.30,186.00 237.00,187.80 259.20,187.80 265.00,186.10 272.00,183.75 279.00,183.20 288.30,183.00 296.00,182.30 310.00,178.20 325.00,173.00 340.00,168.50 355.00,163.20 365.00,161.50" fill="none" stroke="#3a6cf0" stroke-width="1.6" stroke-linejoin="round"/>
<polyline points="0.00,160.50 3.00,160.50 8.00,161.80 13.00,164.00 20.00,167.50 27.00,170.00 33.00,173.50 40.00,178.50 46.00,182.00 51.00,186.00 56.00,189.50 64.80,194.30 76.20,200.00 80.00,201.70 93.30,207.70 106.70,213.70 113.30,215.70 136.00,216.20 140.00,214.60 146.70,213.00 154.70,210.30 160.00,207.00 167.40,200.50 178.80,194.30 190.20,186.70 201.40,178.80 212.90,173.10 224.30,168.30 235.70,164.50 247.10,163.20 258.60,160.70 266.20,156.90 272.90,153.90 277.00,153.80 285.20,155.00 295.70,157.30 302.70,155.80 312.00,153.00 322.50,148.20 332.60,142.40 341.50,138.60 350.40,135.40 358.00,133.50 365.00,132.60" fill="none" stroke="#ff0000" stroke-width="1.85" stroke-linejoin="round"/>
<line x1="0" y1="76.2" x2="566" y2="76.2" stroke="#1f9a1f" stroke-width="1.7"/>
<line x1="0" y1="94.9" x2="566" y2="94.9" stroke="#1f9a1f" stroke-width="1.7"/>
<line x1="0" y1="113.9" x2="566" y2="113.9" stroke="#1f9a1f" stroke-width="1.7"/>
<line x1="0" y1="163.8" x2="566" y2="163.8" stroke="#ff0000" stroke-width="1.4"/>
<line x1="0" y1="182.8" x2="566" y2="182.8" stroke="#ff0000" stroke-width="1.4"/>
<line x1="0" y1="201.8" x2="566" y2="201.8" stroke="#ff0000" stroke-width="1.4"/>
<polyline points="0.00,484.70 6.70,485.00 16.70,488.00 26.70,490.30 31.70,489.70 38.30,493.00 49.20,497.00 55.00,493.70 61.70,487.50 66.70,488.70 72.50,485.00 78.30,493.30 85.00,489.70 93.30,488.30 103.20,488.30 111.30,485.50 119.50,479.50 130.00,481.80 140.50,479.50 148.70,483.20 160.30,476.00 172.00,476.00 179.00,477.40 188.30,475.50 195.30,477.80 204.70,483.70 214.00,486.50 218.70,486.00 224.50,482.50 230.30,484.80 237.00,483.20 241.70,484.10 248.70,484.10 258.00,479.50 266.20,475.00 272.00,477.10 277.80,479.00 283.70,484.80 294.20,486.00 300.00,480.20 306.50,477.10 312.80,480.20 321.00,479.50 330.30,479.50 336.20,481.80 343.20,483.20 353.70,482.50 359.50,484.10 364.90,484.10" fill="none" stroke="#3d9cf5" stroke-width="1.1" stroke-linejoin="round"/>
<line x1="2.50" y1="543.8" x2="2.50" y2="544.80" stroke="#b4b4b4" stroke-width="0.9"/>
<line x1="8.35" y1="543.8" x2="8.35" y2="545.20" stroke="#b4b4b4" stroke-width="0.9"/>
<line x1="14.19" y1="543.8" x2="14.19" y2="545.50" stroke="#b4b4b4" stroke-width="0.9"/>
<line x1="20.04" y1="543.8" x2="20.04" y2="545.90" stroke="#b4b4b4" stroke-width="0.9"/>
<line x1="25.89" y1="543.8" x2="25.89" y2="546.30" stroke="#b4b4b4" stroke-width="0.9"/>
<line x1="31.74" y1="543.8" x2="31.74" y2="546.80" stroke="#b4b4b4" stroke-width="0.9"/>
<line x1="37.58" y1="543.8" x2="37.58" y2="547.60" stroke="#b4b4b4" stroke-width="0.9"/>
<line x1="43.43" y1="543.8" x2="43.43" y2="549.90" stroke="#b4b4b4" stroke-width="0.9"/>
<line x1="49.28" y1="543.8" x2="49.28" y2="551.70" stroke="#b4b4b4" stroke-width="0.9"/>
<line x1="55.12" y1="543.8" x2="55.12" y2="552.80" stroke="#b4b4b4" stroke-width="0.9"/>
<line x1="60.97" y1="543.8" x2="60.97" y2="552.80" stroke="#b4b4b4" stroke-width="0.9"/>
<line x1="66.82" y1="543.8" x2="66.82" y2="553.40" stroke="#b4b4b4" stroke-width="0.9"/>
<line x1="72.66" y1="543.8" x2="72.66" y2="554.00" stroke="#b4b4b4" stroke-width="0.9"/>
<line x1="78.51" y1="543.8" x2="78.51" y2="554.60" stroke="#b4b4b4" stroke-width="0.9"/>
<line x1="84.36" y1="543.8" x2="84.36" y2="555.20" stroke="#b4b4b4" stroke-width="0.9"/>
<line x1="90.21" y1="543.8" x2="90.21" y2="554.60" stroke="#b4b4b4" stroke-width="0.9"/>
<line x1="96.05" y1="543.8" x2="96.05" y2="554.60" stroke="#b4b4b4" stroke-width="0.9"/>
<line x1="101.90" y1="543.8" x2="101.90" y2="554.00" stroke="#b4b4b4" stroke-width="0.9"/>
<line x1="107.75" y1="543.8" x2="107.75" y2="554.00" stroke="#b4b4b4" stroke-width="0.9"/>
<line x1="113.59" y1="543.8" x2="113.59" y2="552.30" stroke="#b4b4b4" stroke-width="0.9"/>
<line x1="119.44" y1="543.8" x2="119.44" y2="548.70" stroke="#b4b4b4" stroke-width="0.9"/>
<line x1="125.29" y1="543.8" x2="125.29" y2="546.30" stroke="#b4b4b4" stroke-width="0.9"/>
<line x1="131.13" y1="543.8" x2="131.13" y2="545.00" stroke="#b4b4b4" stroke-width="0.9"/>
<line x1="136.98" y1="543.8" x2="136.98" y2="544.40" stroke="#b4b4b4" stroke-width="0.9"/>
<line x1="142.83" y1="543.8" x2="142.83" y2="542.00" stroke="#b4b4b4" stroke-width="0.9"/>
<line x1="148.68" y1="543.8" x2="148.68" y2="540.70" stroke="#b4b4b4" stroke-width="0.9"/>
<line x1="154.52" y1="543.8" x2="154.52" y2="539.80" stroke="#b4b4b4" stroke-width="0.9"/>
<line x1="160.37" y1="543.8" x2="160.37" y2="536.10" stroke="#b4b4b4" stroke-width="0.9"/>
<line x1="166.22" y1="543.8" x2="166.22" y2="532.40" stroke="#b4b4b4" stroke-width="0.9"/>
<line x1="172.06" y1="543.8" x2="172.06" y2="531.90" stroke="#b4b4b4" stroke-width="0.9"/>
<line x1="177.91" y1="543.8" x2="177.91" y2="531.10" stroke="#b4b4b4" stroke-width="0.9"/>
<line x1="183.76" y1="543.8" x2="183.76" y2="530.00" stroke="#b4b4b4" stroke-width="0.9"/>
<line x1="189.60" y1="543.8" x2="189.60" y2="528.20" stroke="#b4b4b4" stroke-width="0.9"/>
<line x1="195.45" y1="543.8" x2="195.45" y2="528.80" stroke="#b4b4b4" stroke-width="0.9"/>
<line x1="201.30" y1="543.8" x2="201.30" y2="531.10" stroke="#b4b4b4" stroke-width="0.9"/>
<line x1="207.15" y1="543.8" x2="207.15" y2="533.30" stroke="#b4b4b4" stroke-width="0.9"/>
<line x1="212.99" y1="543.8" x2="212.99" y2="535.60" stroke="#b4b4b4" stroke-width="0.9"/>
<line x1="218.84" y1="543.8" x2="218.84" y2="536.70" stroke="#b4b4b4" stroke-width="0.9"/>
<line x1="224.69" y1="543.8" x2="224.69" y2="537.00" stroke="#b4b4b4" stroke-width="0.9"/>
<line x1="230.53" y1="543.8" x2="230.53" y2="538.00" stroke="#b4b4b4" stroke-width="0.9"/>
<line x1="236.38" y1="543.8" x2="236.38" y2="538.00" stroke="#b4b4b4" stroke-width="0.9"/>
<line x1="242.23" y1="543.8" x2="242.23" y2="537.40" stroke="#b4b4b4" stroke-width="0.9"/>
<line x1="248.07" y1="543.8" x2="248.07" y2="537.00" stroke="#b4b4b4" stroke-width="0.9"/>
<line x1="253.92" y1="543.8" x2="253.92" y2="539.50" stroke="#b4b4b4" stroke-width="0.9"/>
<line x1="259.77" y1="543.8" x2="259.77" y2="539.30" stroke="#b4b4b4" stroke-width="0.9"/>
<line x1="265.62" y1="543.8" x2="265.62" y2="536.30" stroke="#b4b4b4" stroke-width="0.9"/>
<line x1="271.46" y1="543.8" x2="271.46" y2="535.20" stroke="#b4b4b4" stroke-width="0.9"/>
<line x1="277.31" y1="543.8" x2="277.31" y2="533.40" stroke="#b4b4b4" stroke-width="0.9"/>
<line x1="283.16" y1="543.8" x2="283.16" y2="533.00" stroke="#b4b4b4" stroke-width="0.9"/>
<line x1="289.00" y1="543.8" x2="289.00" y2="535.60" stroke="#b4b4b4" stroke-width="0.9"/>
<line x1="294.85" y1="543.8" x2="294.85" y2="537.30" stroke="#b4b4b4" stroke-width="0.9"/>
<line x1="300.70" y1="543.8" x2="300.70" y2="537.20" stroke="#b4b4b4" stroke-width="0.9"/>
<line x1="306.54" y1="543.8" x2="306.54" y2="535.20" stroke="#b4b4b4" stroke-width="0.9"/>
<line x1="312.39" y1="543.8" x2="312.39" y2="533.40" stroke="#b4b4b4" stroke-width="0.9"/>
<line x1="318.24" y1="543.8" x2="318.24" y2="532.60" stroke="#b4b4b4" stroke-width="0.9"/>
<line x1="324.09" y1="543.8" x2="324.09" y2="532.00" stroke="#b4b4b4" stroke-width="0.9"/>
<line x1="329.93" y1="543.8" x2="329.93" y2="532.00" stroke="#b4b4b4" stroke-width="0.9"/>
<line x1="335.78" y1="543.8" x2="335.78" y2="532.30" stroke="#b4b4b4" stroke-width="0.9"/>
<line x1="341.63" y1="543.8" x2="341.63" y2="532.30" stroke="#b4b4b4" stroke-width="0.9"/>
<line x1="347.47" y1="543.8" x2="347.47" y2="532.30" stroke="#b4b4b4" stroke-width="0.9"/>
<line x1="353.32" y1="543.8" x2="353.32" y2="533.40" stroke="#b4b4b4" stroke-width="0.9"/>
<line x1="359.17" y1="543.8" x2="359.17" y2="534.00" stroke="#b4b4b4" stroke-width="0.9"/>
<line x1="365.01" y1="543.8" x2="365.01" y2="534.70" stroke="#b4b4b4" stroke-width="0.9"/>
<polyline points="0.00,531.30 2.25,531.70 15.00,535.50 30.00,540.00 45.00,544.50 60.00,549.00 75.00,551.20 88.50,552.70 104.00,555.30 118.70,554.70 130.70,552.70 142.70,550.00 149.20,547.10 158.30,544.00 167.50,540.70 176.70,538.50 185.90,535.60 195.00,533.30 204.20,531.50 217.00,531.50 226.20,532.40 235.40,533.30 246.40,535.10 258.00,537.80 266.70,537.30 277.50,536.30 299.20,535.60 310.00,534.10 320.80,533.40 331.70,533.00 342.50,532.60 353.30,532.60 364.20,533.00" fill="none" stroke="#ff2020" stroke-width="1.0" stroke-dasharray="2.0,2.4"/>
<polyline points="0.00,593.00 6.00,591.00 12.00,593.00 26.00,607.00 32.00,606.00 50.00,612.60 60.00,608.00 72.30,584.00 77.30,591.50 90.00,597.50 98.00,591.00 104.00,589.00 114.00,580.00 120.00,573.40 127.00,577.00 137.00,583.00 145.00,583.00 154.00,586.60 161.00,584.60 167.00,577.00 173.00,573.40 181.00,575.40 187.00,577.40 195.00,585.00 203.00,600.00 208.00,608.00 213.00,609.00 219.00,607.00 227.00,599.00 235.80,586.00 244.00,585.50 259.20,584.00 266.20,578.30 276.70,578.30 286.00,591.80 294.90,605.80 304.70,588.30 312.10,574.30 321.00,577.80 330.30,582.50 342.00,601.20 351.30,600.00 364.20,600.50" fill="none" stroke="#3cbcb4" stroke-width="1.0" stroke-linejoin="round"/>
<polyline points="0.00,594.00 8.00,593.00 20.00,599.00 30.00,604.00 42.00,608.00 52.00,611.00 60.00,610.00 68.00,601.00 76.00,591.00 84.00,591.00 91.00,595.00 102.00,593.00 112.00,587.00 115.00,583.00 120.00,580.00 123.00,577.00 135.00,581.00 147.00,583.00 159.00,585.00 167.00,582.00 175.00,576.00 183.00,574.60 191.00,578.00 199.00,587.00 207.00,599.00 213.00,605.00 219.00,608.00 227.00,605.00 235.00,597.00 241.70,588.30 251.00,584.80 260.30,584.00 269.70,580.20 277.80,578.50 286.00,588.30 296.50,600.00 307.00,589.50 316.30,577.80 323.30,576.70 330.30,580.20 339.70,588.30 349.00,598.80 364.20,601.20" fill="none" stroke="#ff3030" stroke-width="1.0" stroke-dasharray="2.1,2.3"/>
<line x1="0" y1="1.8" x2="567" y2="1.8" stroke="#505050" stroke-width="1.3"/>
<line x1="566.5" y1="1" x2="566.5" y2="614.5" stroke="#484848" stroke-width="1.1"/>
<line x1="0" y1="456.5" x2="567" y2="456.5" stroke="#484848" stroke-width="1.5"/>
<line x1="0" y1="458.1" x2="567" y2="458.1" stroke="#a8a8a8" stroke-width="1.6"/>
<line x1="0" y1="510.3" x2="566" y2="510.3" stroke="#d8d8d8" stroke-width="1" stroke-dasharray="2.19,2.195" stroke-dashoffset="1.755"/>
<line x1="0" y1="512" x2="567" y2="512" stroke="#484848" stroke-width="1.6"/>
<line x1="0" y1="567.4" x2="567" y2="567.4" stroke="#484848" stroke-width="1.5"/>
<line x1="0" y1="569" x2="567" y2="569" stroke="#a4a4a4" stroke-width="1.5"/>
<line x1="0" y1="614.1" x2="567" y2="614.1" stroke="#484848" stroke-width="1"/>
<polygon points="370.3,2.2 377.3,2.2 373.8,5.8" fill="#b4b4b4"/>
<line x1="567" y1="20.20" x2="569" y2="20.20" stroke="#202020" stroke-width="0.9"/>
<text x="571" y="23.05" font-size="7.9" fill="#202020" stroke="#202020" stroke-width="0.15" font-family="Liberation Sans, sans-serif" textLength="23.8" lengthAdjust="spacingAndGlyphs">7095.45</text>
<line x1="567" y1="44.40" x2="569" y2="44.40" stroke="#202020" stroke-width="0.9"/>
<text x="571" y="47.25" font-size="7.9" fill="#202020" stroke="#202020" stroke-width="0.15" font-family="Liberation Sans, sans-serif" textLength="23.8" lengthAdjust="spacingAndGlyphs">7074.00</text>
<line x1="567" y1="68.25" x2="569" y2="68.25" stroke="#202020" stroke-width="0.9"/>
<text x="571" y="71.10" font-size="7.9" fill="#202020" stroke="#202020" stroke-width="0.15" font-family="Liberation Sans, sans-serif" textLength="23.8" lengthAdjust="spacingAndGlyphs">7051.90</text>
<line x1="567" y1="92.40" x2="569" y2="92.40" stroke="#202020" stroke-width="0.9"/>
<text x="571" y="95.25" font-size="7.9" fill="#202020" stroke="#202020" stroke-width="0.15" font-family="Liberation Sans, sans-serif" textLength="23.8" lengthAdjust="spacingAndGlyphs">7030.45</text>
<line x1="567" y1="116.40" x2="569" y2="116.40" stroke="#202020" stroke-width="0.9"/>
<text x="571" y="119.25" font-size="7.9" fill="#202020" stroke="#202020" stroke-width="0.15" font-family="Liberation Sans, sans-serif" textLength="23.8" lengthAdjust="spacingAndGlyphs">7008.35</text>
<line x1="567" y1="140.40" x2="569" y2="140.40" stroke="#202020" stroke-width="0.9"/>
<text x="571" y="143.25" font-size="7.9" fill="#202020" stroke="#202020" stroke-width="0.15" font-family="Liberation Sans, sans-serif" textLength="23.8" lengthAdjust="spacingAndGlyphs">6986.90</text>
<line x1="567" y1="188.50" x2="569" y2="188.50" stroke="#202020" stroke-width="0.9"/>
<text x="571" y="191.35" font-size="7.9" fill="#202020" stroke="#202020" stroke-width="0.15" font-family="Liberation Sans, sans-serif" textLength="23.8" lengthAdjust="spacingAndGlyphs">6943.35</text>
<line x1="567" y1="213.00" x2="569" y2="213.00" stroke="#202020" stroke-width="0.9"/>
<text x="571" y="215.85" font-size="7.9" fill="#202020" stroke="#202020" stroke-width="0.15" font-family="Liberation Sans, sans-serif" textLength="23.8" lengthAdjust="spacingAndGlyphs">6921.25</text>
<line x1="567" y1="237.30" x2="569" y2="237.30" stroke="#202020" stroke-width="0.9"/>
<text x="571" y="240.15" font-size="7.9" fill="#202020" stroke="#202020" stroke-width="0.15" font-family="Liberation Sans, sans-serif" textLength="23.8" lengthAdjust="spacingAndGlyphs">6899.80</text>
<line x1="567" y1="261.10" x2="569" y2="261.10" stroke="#202020" stroke-width="0.9"/>
<text x="571" y="263.95" font-size="7.9" fill="#202020" stroke="#202020" stroke-width="0.15" font-family="Liberation Sans, sans-serif" textLength="23.8" lengthAdjust="spacingAndGlyphs">6877.70</text>
<line x1="567" y1="285.40" x2="569" y2="285.40" stroke="#202020" stroke-width="0.9"/>
<text x="571" y="288.25" font-size="7.9" fill="#202020" stroke="#202020" stroke-width="0.15" font-family="Liberation Sans, sans-serif" textLength="23.8" lengthAdjust="spacingAndGlyphs">6856.25</text>
<line x1="567" y1="309.50" x2="569" y2="309.50" stroke="#202020" stroke-width="0.9"/>
<text x="571" y="312.35" font-size="7.9" fill="#202020" stroke="#202020" stroke-width="0.15" font-family="Liberation Sans, sans-serif" textLength="23.8" lengthAdjust="spacingAndGlyphs">6834.15</text>
<line x1="567" y1="333.70" x2="569" y2="333.70" stroke="#202020" stroke-width="0.9"/>
<text x="571" y="336.55" font-size="7.9" fill="#202020" stroke="#202020" stroke-width="0.15" font-family="Liberation Sans, sans-serif" textLength="23.8" lengthAdjust="spacingAndGlyphs">6812.70</text>
<line x1="567" y1="357.50" x2="569" y2="357.50" stroke="#202020" stroke-width="0.9"/>
<text x="571" y="360.35" font-size="7.9" fill="#202020" stroke="#202020" stroke-width="0.15" font-family="Liberation Sans, sans-serif" textLength="23.8" lengthAdjust="spacingAndGlyphs">6790.60</text>
<line x1="567" y1="381.70" x2="569" y2="381.70" stroke="#202020" stroke-width="0.9"/>
<text x="571" y="384.55" font-size="7.9" fill="#202020" stroke="#202020" stroke-width="0.15" font-family="Liberation Sans, sans-serif" textLength="23.8" lengthAdjust="spacingAndGlyphs">6769.15</text>
<line x1="567" y1="405.90" x2="569" y2="405.90" stroke="#202020" stroke-width="0.9"/>
<text x="571" y="408.75" font-size="7.9" fill="#202020" stroke="#202020" stroke-width="0.15" font-family="Liberation Sans, sans-serif" textLength="23.8" lengthAdjust="spacingAndGlyphs">6747.05</text>
<line x1="567" y1="430.30" x2="569" y2="430.30" stroke="#202020" stroke-width="0.9"/>
<text x="571" y="433.15" font-size="7.9" fill="#202020" stroke="#202020" stroke-width="0.15" font-family="Liberation Sans, sans-serif" textLength="23.8" lengthAdjust="spacingAndGlyphs">6725.60</text>
<line x1="567" y1="454.30" x2="569" y2="454.30" stroke="#202020" stroke-width="0.9"/>
<text x="571" y="457.15" font-size="7.9" fill="#202020" stroke="#202020" stroke-width="0.15" font-family="Liberation Sans, sans-serif" textLength="23.8" lengthAdjust="spacingAndGlyphs">6704.15</text>
<rect x="568" y="71.70" width="30" height="7.8" fill="#008000"/>
<text x="571" y="78.65" font-size="7.9" fill="#ffffff" stroke="#ffffff" stroke-width="0.12" font-family="Liberation Sans, sans-serif" textLength="23.8" lengthAdjust="spacingAndGlyphs">7044.62</text>
<rect x="568" y="90.80" width="30" height="7.8" fill="#008000"/>
<text x="571" y="97.75" font-size="7.9" fill="#ffffff" stroke="#ffffff" stroke-width="0.12" font-family="Liberation Sans, sans-serif" textLength="23.8" lengthAdjust="spacingAndGlyphs">7027.64</text>
<rect x="568" y="109.80" width="30" height="7.8" fill="#008000"/>
<text x="571" y="116.75" font-size="7.9" fill="#ffffff" stroke="#ffffff" stroke-width="0.12" font-family="Liberation Sans, sans-serif" textLength="23.8" lengthAdjust="spacingAndGlyphs">7010.65</text>
<rect x="568" y="134.20" width="30" height="7.8" fill="#000000"/>
<text x="571" y="141.15" font-size="7.9" fill="#ffffff" stroke="#ffffff" stroke-width="0.12" font-family="Liberation Sans, sans-serif" textLength="23.8" lengthAdjust="spacingAndGlyphs">6988.50</text>
<rect x="568" y="159.00" width="30" height="7.8" fill="#ff0000"/>
<text x="571" y="165.95" font-size="7.9" fill="#ffffff" stroke="#ffffff" stroke-width="0.12" font-family="Liberation Sans, sans-serif" textLength="23.8" lengthAdjust="spacingAndGlyphs">6965.35</text>
<rect x="568" y="178.10" width="30" height="7.8" fill="#ff0000"/>
<text x="571" y="185.05" font-size="7.9" fill="#ffffff" stroke="#ffffff" stroke-width="0.12" font-family="Liberation Sans, sans-serif" textLength="23.8" lengthAdjust="spacingAndGlyphs">6948.36</text>
<rect x="568" y="197.10" width="30" height="7.8" fill="#ff0000"/>
<text x="571" y="204.05" font-size="7.9" fill="#ffffff" stroke="#ffffff" stroke-width="0.12" font-family="Liberation Sans, sans-serif" textLength="23.8" lengthAdjust="spacingAndGlyphs">6931.38</text>
<text x="519.3" y="88.0" font-size="10.3" fill="#2a962a" font-family="Liberation Sans, sans-serif" textLength="12.2" lengthAdjust="spacingAndGlyphs">R3</text>
<text x="519.3" y="107.0" font-size="10.3" fill="#2a962a" font-family="Liberation Sans, sans-serif" textLength="12.2" lengthAdjust="spacingAndGlyphs">R2</text>
<text x="519.3" y="126.5" font-size="10.3" fill="#2a962a" font-family="Liberation Sans, sans-serif" textLength="12.2" lengthAdjust="spacingAndGlyphs">R1</text>
<text x="518.3" y="175.5" font-size="10.3" fill="#ff2a2a" font-family="Liberation Sans, sans-serif" textLength="12" lengthAdjust="spacingAndGlyphs">S1</text>
<text x="518.3" y="194.5" font-size="10.3" fill="#ff2a2a" font-family="Liberation Sans, sans-serif" textLength="12" lengthAdjust="spacingAndGlyphs">S2</text>
<text x="518.3" y="214.0" font-size="10.3" fill="#ff2a2a" font-family="Liberation Sans, sans-serif" textLength="12" lengthAdjust="spacingAndGlyphs">S3</text>
<text x="6.3" y="484.9" font-size="11.3" fill="#1a1a1a" font-family="Liberation Sans, sans-serif" textLength="39" lengthAdjust="spacingAndGlyphs">RSI(14)</text>
<text x="4.3" y="543.5" font-size="11.6" fill="#1a1a1a" font-family="Liberation Sans, sans-serif" textLength="80.8" lengthAdjust="spacingAndGlyphs">MACD(12,26,9)</text>
<text x="6.3" y="595.2" font-size="11.5" fill="#1a1a1a" font-family="Liberation Sans, sans-serif" textLength="62.3" lengthAdjust="spacingAndGlyphs">Stoch(9,6,3)</text>
<text x="569.8" y="465.80" font-size="7.9" fill="#202020" stroke="#202020" stroke-width="0.15" font-family="Liberation Sans, sans-serif" textLength="10.7" lengthAdjust="spacingAndGlyphs">100</text>
<text x="569.0" y="477.50" font-size="7.9" fill="#202020" stroke="#202020" stroke-width="0.15" font-family="Liberation Sans, sans-serif" textLength="7.1" lengthAdjust="spacingAndGlyphs">70</text>
<text x="569.0" y="497.90" font-size="7.9" fill="#202020" stroke="#202020" stroke-width="0.15" font-family="Liberation Sans, sans-serif" textLength="7.1" lengthAdjust="spacingAndGlyphs">30</text>
<text x="569.5" y="509.30" font-size="7.9" fill="#202020" stroke="#202020" stroke-width="0.15" font-family="Liberation Sans, sans-serif" textLength="3.6" lengthAdjust="spacingAndGlyphs">0</text>
<line x1="567" y1="474.30" x2="568.5" y2="474.30" stroke="#202020" stroke-width="0.9"/>
<line x1="567" y1="495.00" x2="568.5" y2="495.00" stroke="#202020" stroke-width="0.9"/>
<text x="569.0" y="520.80" font-size="7.9" fill="#202020" stroke="#202020" stroke-width="0.15" font-family="Liberation Sans, sans-serif" textLength="19.5" lengthAdjust="spacingAndGlyphs">30.857</text>
<text x="569.0" y="546.90" font-size="7.9" fill="#202020" stroke="#202020" stroke-width="0.15" font-family="Liberation Sans, sans-serif" textLength="12.4" lengthAdjust="spacingAndGlyphs">0.00</text>
<text x="569.0" y="565.30" font-size="7.9" fill="#202020" stroke="#202020" stroke-width="0.15" font-family="Liberation Sans, sans-serif" textLength="21.7" lengthAdjust="spacingAndGlyphs">-23.216</text>
<line x1="567" y1="543.9" x2="568.5" y2="543.9" stroke="#202020" stroke-width="0.9"/>
<text x="569.8" y="577.00" font-size="7.9" fill="#202020" stroke="#202020" stroke-width="0.15" font-family="Liberation Sans, sans-serif" textLength="10.7" lengthAdjust="spacingAndGlyphs">100</text>
<text x="569.0" y="581.30" font-size="7.9" fill="#202020" stroke="#202020" stroke-width="0.15" font-family="Liberation Sans, sans-serif" textLength="7.1" lengthAdjust="spacingAndGlyphs">80</text>
<text x="569.0" y="607.30" font-size="7.9" fill="#202020" stroke="#202020" stroke-width="0.15" font-family="Liberation Sans, sans-serif" textLength="7.1" lengthAdjust="spacingAndGlyphs">20</text>
<text x="569.5" y="612.00" font-size="7.9" fill="#202020" stroke="#202020" stroke-width="0.15" font-family="Liberation Sans, sans-serif" textLength="3.6" lengthAdjust="spacingAndGlyphs">0</text>
<line x1="567" y1="578.30" x2="568.5" y2="578.30" stroke="#202020" stroke-width="0.9"/>
<line x1="567" y1="604.40" x2="568.5" y2="604.40" stroke="#202020" stroke-width="0.9"/>
<text x="1.3" y="623.20" font-size="7.9" fill="#202020" stroke="#202020" stroke-width="0.15" font-family="Liberation Sans, sans-serif" textLength="17.0" lengthAdjust="spacingAndGlyphs">20:00</text>
<line x1="25.89" y1="614.5" x2="25.89" y2="616.3" stroke="#202020" stroke-width="0.9"/>
<text x="25.1" y="623.20" font-size="7.9" fill="#202020" stroke="#202020" stroke-width="0.15" font-family="Liberation Sans, sans-serif" textLength="40.3" lengthAdjust="spacingAndGlyphs">31 Dec 04:00</text>
<line x1="72.66" y1="614.5" x2="72.66" y2="616.3" stroke="#202020" stroke-width="0.9"/>
<text x="71.9" y="623.20" font-size="7.9" fill="#202020" stroke="#202020" stroke-width="0.15" font-family="Liberation Sans, sans-serif" textLength="35.4" lengthAdjust="spacingAndGlyphs">2 Jan 08:00</text>
<line x1="119.44" y1="614.5" x2="119.44" y2="616.3" stroke="#202020" stroke-width="0.9"/>
<text x="118.6" y="623.20" font-size="7.9" fill="#202020" stroke="#202020" stroke-width="0.15" font-family="Liberation Sans, sans-serif" textLength="35.4" lengthAdjust="spacingAndGlyphs">5 Jan 12:00</text>
<line x1="166.22" y1="614.5" x2="166.22" y2="616.3" stroke="#202020" stroke-width="0.9"/>
<text x="165.4" y="623.20" font-size="7.9" fill="#202020" stroke="#202020" stroke-width="0.15" font-family="Liberation Sans, sans-serif" textLength="35.4" lengthAdjust="spacingAndGlyphs">6 Jan 20:00</text>
<line x1="212.99" y1="614.5" x2="212.99" y2="616.3" stroke="#202020" stroke-width="0.9"/>
<text x="212.2" y="623.20" font-size="7.9" fill="#202020" stroke="#202020" stroke-width="0.15" font-family="Liberation Sans, sans-serif" textLength="35.4" lengthAdjust="spacingAndGlyphs">8 Jan 04:00</text>
<line x1="259.77" y1="614.5" x2="259.77" y2="616.3" stroke="#202020" stroke-width="0.9"/>
<text x="259.0" y="623.20" font-size="7.9" fill="#202020" stroke="#202020" stroke-width="0.15" font-family="Liberation Sans, sans-serif" textLength="35.4" lengthAdjust="spacingAndGlyphs">9 Jan 12:00</text>
<line x1="306.54" y1="614.5" x2="306.54" y2="616.3" stroke="#202020" stroke-width="0.9"/>
<text x="305.7" y="623.20" font-size="7.9" fill="#202020" stroke="#202020" stroke-width="0.15" font-family="Liberation Sans, sans-serif" textLength="39.2" lengthAdjust="spacingAndGlyphs">12 Jan 16:00</text>
<line x1="353.32" y1="614.5" x2="353.32" y2="616.3" stroke="#202020" stroke-width="0.9"/>
<text x="352.5" y="623.20" font-size="7.9" fill="#202020" stroke="#202020" stroke-width="0.15" font-family="Liberation Sans, sans-serif" textLength="39.2" lengthAdjust="spacingAndGlyphs">14 Jan 00:00</text>
<rect x="0" y="628.6" width="600" height="1.4" fill="#e4e4e4"/>
</svg>
</body></html>
